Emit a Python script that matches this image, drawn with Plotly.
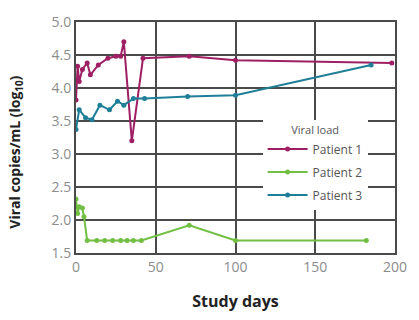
import plotly.graph_objects as go

# Viral load (log10 copies/mL) by study day
p1_days = [0, 1, 2, 4, 7, 9, 14, 20, 25, 28, 30, 35, 42, 71, 100, 198]
p1_vals = [3.82, 4.33, 4.10, 4.28, 4.38, 4.20, 4.35, 4.45, 4.48, 4.48, 4.70, 3.20, 4.45, 4.48, 4.42, 4.38]

p2_days = [0, 1, 2, 4, 5, 7, 13, 18, 23, 28, 32, 36, 41, 71, 100, 182]
p2_vals = [2.32, 2.10, 2.20, 2.18, 2.05, 1.69, 1.69, 1.69, 1.69, 1.69, 1.69, 1.69, 1.69, 1.92, 1.69, 1.69]

p3_days = [0, 2, 6, 10, 15, 21, 26, 30, 36, 43, 70, 100, 185]
p3_vals = [3.37, 3.67, 3.55, 3.52, 3.74, 3.67, 3.80, 3.74, 3.84, 3.84, 3.87, 3.89, 4.35]

series = [
    ("Patient 1", p1_days, p1_vals, "#9e1f63"),
    ("Patient 2", p2_days, p2_vals, "#72bf44"),
    ("Patient 3", p3_days, p3_vals, "#1f7f99"),
]

x_ticks = [0, 50, 100, 150, 200]
y_ticks = [1.5, 2.0, 2.5, 3.0, 3.5, 4.0, 4.5, 5.0]

fig = go.Figure()
for name, xs, ys, color in series:
    fig.add_trace(go.Scatter(
        x=xs, y=ys, name=name, legendgroup=name, mode="lines+markers",
        line=dict(color=color, width=2),
        marker=dict(color=color, size=5),
    ))

axis_common = dict(
    showline=True, linecolor="#4a4a4a", linewidth=2, mirror=True,
    showgrid=True, gridcolor="#4a4a4a", gridwidth=2,
    zeroline=False, ticks="",
    tickfont=dict(family="Open Sans, sans-serif", size=14, color="#8c8c8c"),
)

fig.update_layout(
    width=419, height=320,
    margin=dict(l=76, r=18, t=16, b=63),
    paper_bgcolor="white", plot_bgcolor="white",
    xaxis=dict(range=[0, 200], tickvals=x_ticks,
               title=dict(text="<b>Study days</b>", standoff=21,
                          font=dict(family="Open Sans, sans-serif", size=16, color="#222222")),
               **axis_common),
    yaxis=dict(range=[1.5, 5.0], tickvals=y_ticks, tickformat=".1f", **axis_common),
    legend=dict(
        x=0.585, y=0.575, xanchor="left", yanchor="top",
        bgcolor="white", borderwidth=0,
        title=dict(text="Viral load", side="top center",
                   font=dict(family="Open Sans, sans-serif", size=11, color="#555555")),
        font=dict(family="Open Sans, sans-serif", size=12, color="#555555"),
        itemwidth=40, tracegroupgap=4,
    ),
    showlegend=True,
)

# Y-axis title placed as a rotated annotation
fig.add_annotation(
    text="<b>Viral copies/mL (log<sub>10</sub>)</b>",
    xref="paper", yref="paper", x=-0.19, y=0.436,
    xanchor="center", yanchor="middle", textangle=-90, showarrow=False,
    font=dict(family="Open Sans, sans-serif", size=14, color="#222222"),
)

fig.write_html("out.html")
